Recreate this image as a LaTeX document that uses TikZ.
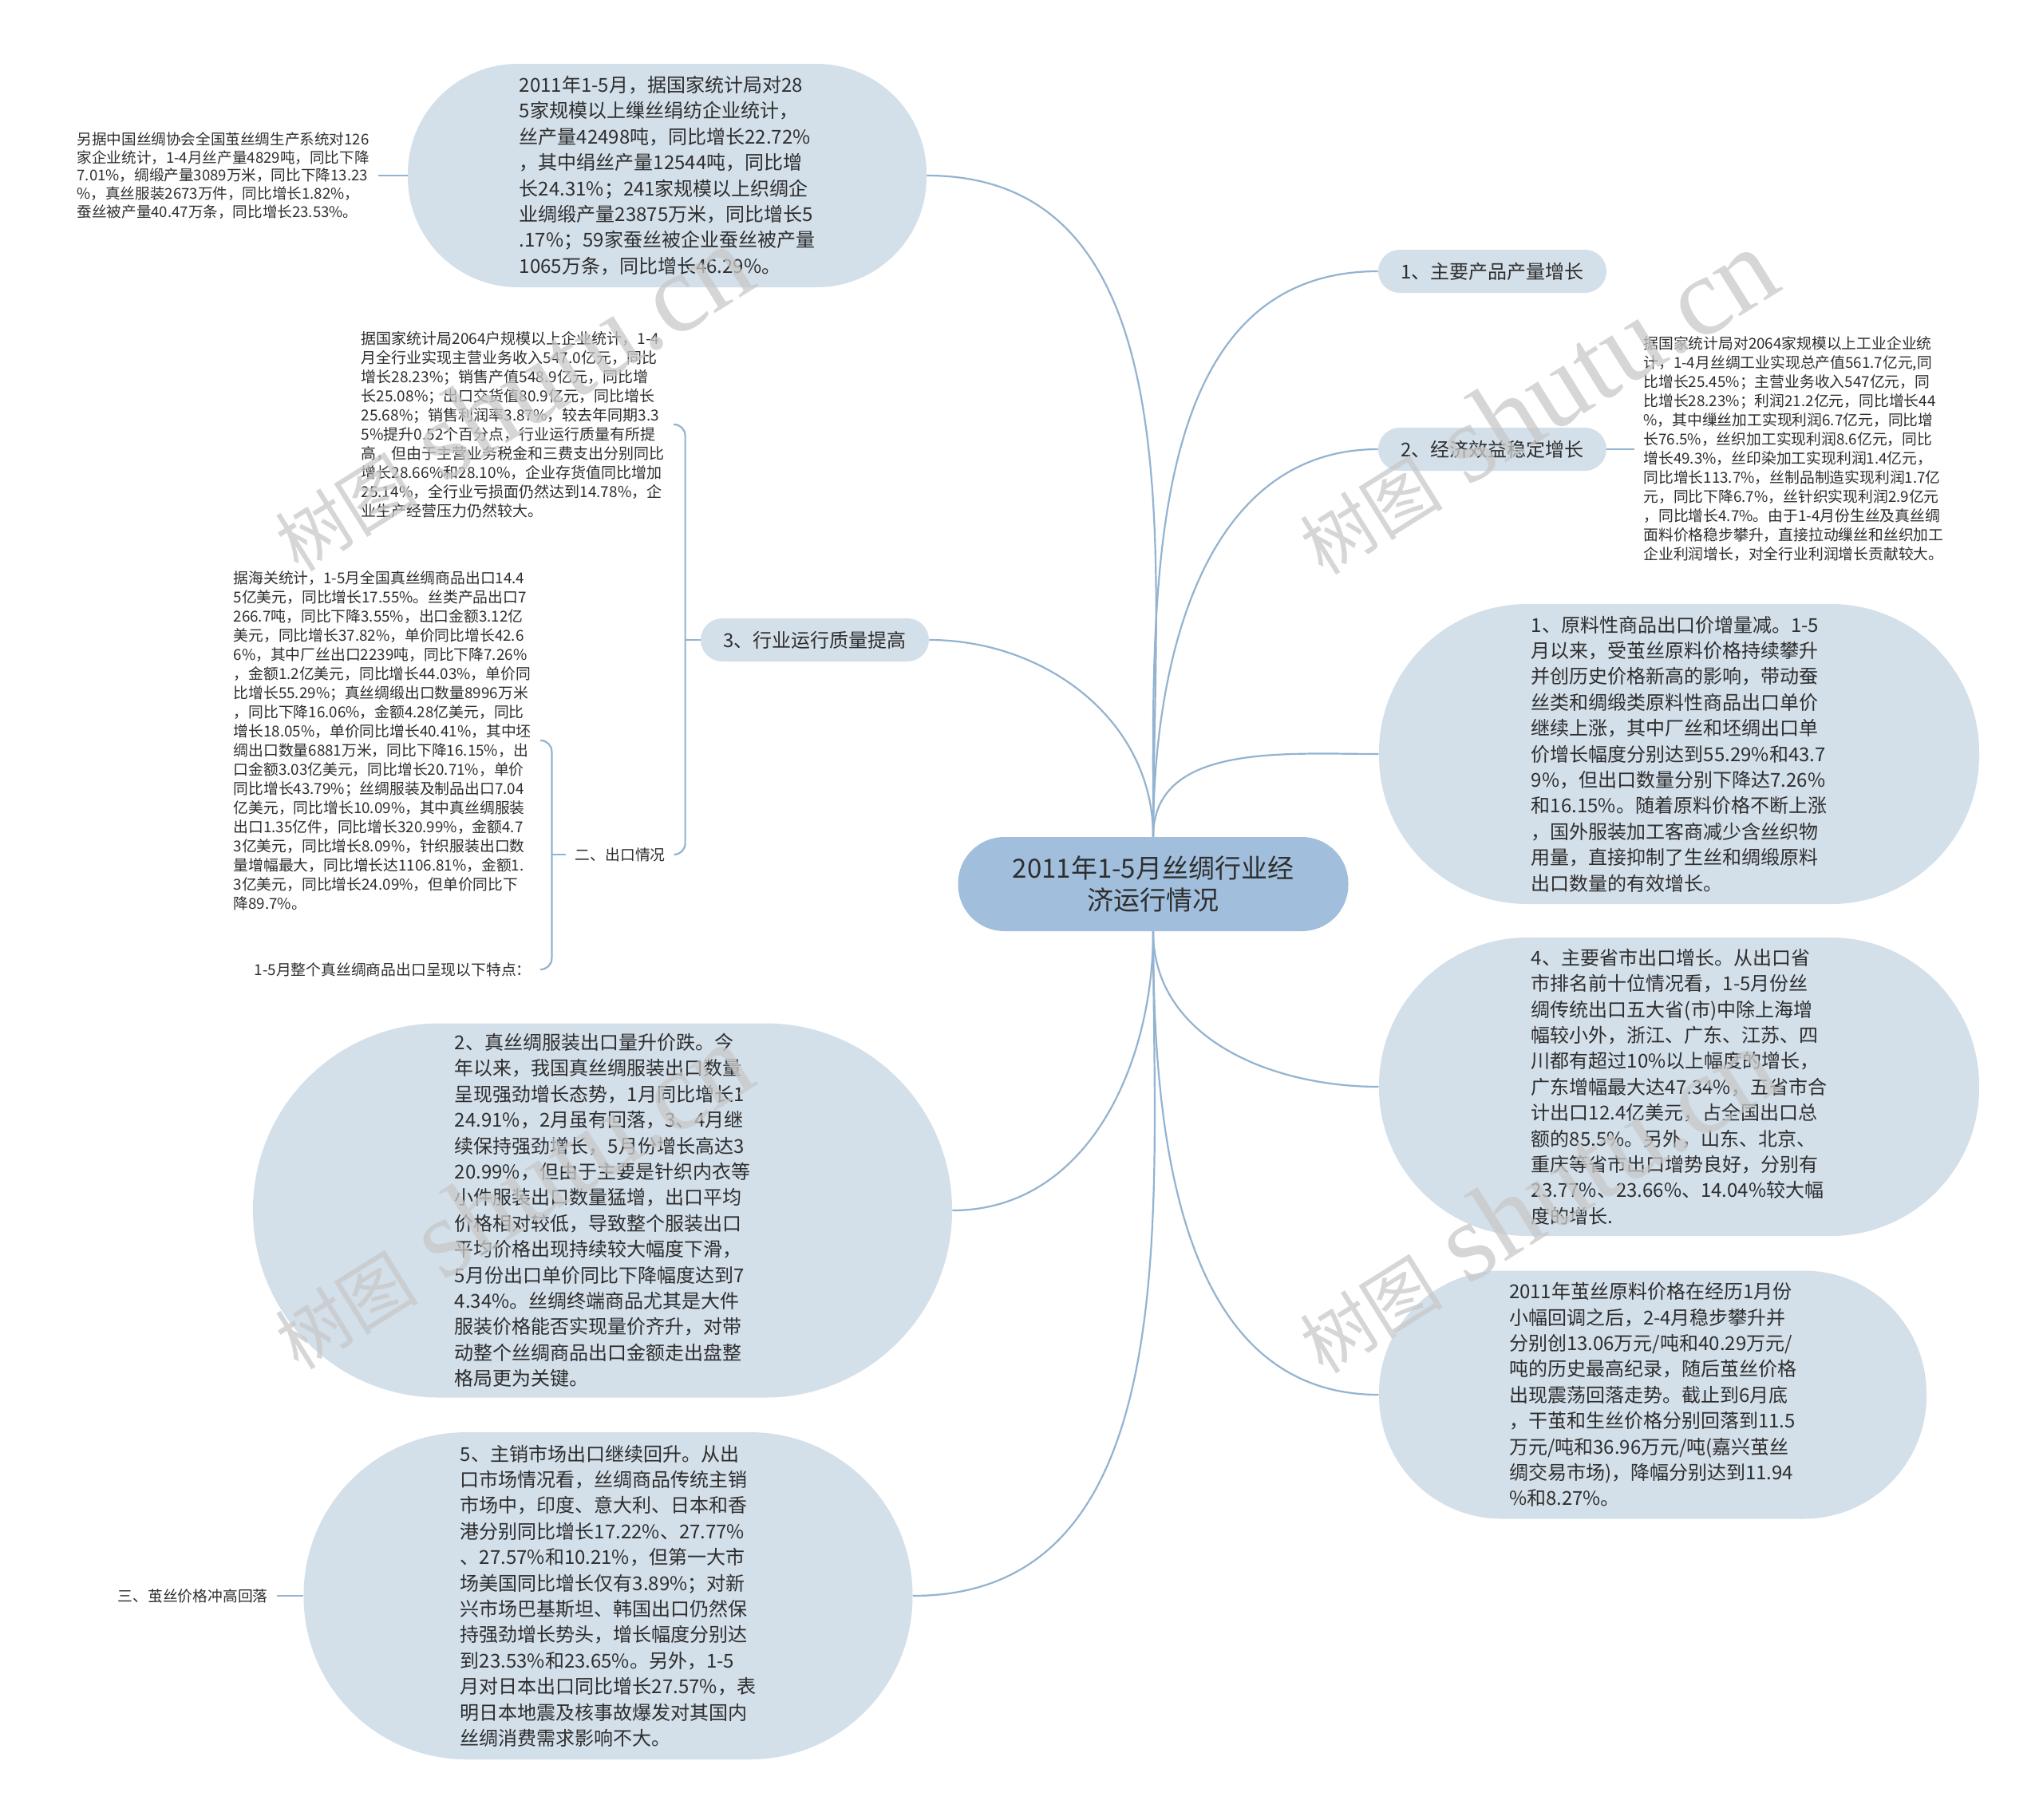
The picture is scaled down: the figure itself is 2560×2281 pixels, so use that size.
\documentclass[tikz,border=0pt]{standalone}
\usepackage{fontspec}
\setmainfont{Noto Sans CJK SC}
\newfontfamily\cjk{Noto Sans CJK SC}
\newfontfamily\wmserif{Liberation Serif}
\definecolor{rootfill}{HTML}{A1BFDC}
\definecolor{boxfill}{HTML}{D3DFE9}
\definecolor{linec}{HTML}{93B3D0}
\definecolor{txt}{HTML}{2E2E2E}
\newcommand{\wmtext}{{\cjk\fontsize{45pt}{47pt}\selectfont 树图}\hspace{16pt}{\wmserif\fontsize{70pt}{72pt}\selectfont shutu.cn}}
\begin{document}
\begin{tikzpicture}[x=0.5pt,y=-0.5pt]
\tikzset{
  conn/.style={draw=linec, line width=1.1pt},
  rootbox/.style={fill=rootfill, align=center, inner sep=0pt, text=txt,
    font=\fontsize{16.5pt}{20pt}\selectfont, minimum width=244.5pt,
    minimum height=59pt, rounded corners=29pt},
  bigbox/.style={fill=boxfill, align=left, inner sep=0pt, text=txt,
    font=\fontsize{12pt}{16.2pt}\selectfont},
  topic/.style={fill=boxfill, align=center, inner sep=0pt, text=txt,
    font=\fontsize{12pt}{14pt}\selectfont, minimum width=143pt,
    minimum height=27pt, rounded corners=13.5pt},
  note/.style={align=left, inner xsep=5.5pt, inner ysep=2pt, text=txt,
    font=\fontsize{9.4pt}{12pt}\selectfont},
  wm/.style={text=black!21, opacity=0.75, inner sep=0pt},
}
\useasboundingbox (0,0) rectangle (2560,2281);
\fill[white] (0,0) rectangle (2560,2281);

% root
\node[rootbox] (root) at (1445,1108) {2011年1-5月丝绸行业经\\济运行情况};

% top-left big box
\node[bigbox, minimum width=325pt, minimum height=140pt, rounded corners=69pt] (boxA) at (836,220) {2011年1-5月，据国家统计局对28\\
5家规模以上缫丝绢纺企业统计，\\
丝产量42498吨，同比增长22.72\%\\
，其中绢丝产量12544吨，同比增\\
长24.31\%；241家规模以上织绸企\\
业绸缎产量23875万米，同比增长5\\
.17\%；59家蚕丝被企业蚕丝被产量\\
1065万条，同比增长46.29\%。};

\node[note, anchor=east, font=\fontsize{9.3pt}{11.35pt}\selectfont] (noteA) at (474,220) {另据中国丝绸协会全国茧丝绸生产系统对126\\
家企业统计，1-4月丝产量4829吨，同比下降\\
7.01\%，绸缎产量3089万米，同比下降13.23\\
\%，真丝服装2673万件，同比增长1.82\%，\\
蚕丝被产量40.47万条，同比增长23.53\%。};

% right topics
\node[topic] (t1) at (1870,340) {1、主要产品产量增长};
\node[topic] (t2) at (1870,563) {2、经济效益稳定增长};

\node[note, anchor=west] (noteB) at (2048,563) {据国家统计局对2064家规模以上工业企业统\\
计，1-4月丝绸工业实现总产值561.7亿元,同\\
比增长25.45\%；主营业务收入547亿元，同\\
比增长28.23\%；利润21.2亿元，同比增长44\\
\%，其中缫丝加工实现利润6.7亿元，同比增\\
长76.5\%，丝织加工实现利润8.6亿元，同比\\
增长49.3\%，丝印染加工实现利润1.4亿元，\\
同比增长113.7\%，丝制品制造实现利润1.7亿\\
元，同比下降6.7\%，丝针织实现利润2.9亿元\\
，同比增长4.7\%。由于1-4月份生丝及真丝绸\\
面料价格稳步攀升，直接拉动缫丝和丝织加工\\
企业利润增长，对全行业利润增长贡献较大。};

\node[bigbox, minimum width=376pt, minimum height=188pt, rounded corners=93pt] (b1) at (2104,945) {1、原料性商品出口价增量减。1-5\\
月以来，受茧丝原料价格持续攀升\\
并创历史价格新高的影响，带动蚕\\
丝类和绸缎类原料性商品出口单价\\
继续上涨，其中厂丝和坯绸出口单\\
价增长幅度分别达到55.29\%和43.7\\
9\%，但出口数量分别下降达7.26\%\\
和16.15\%。随着原料价格不断上涨\\
，国外服装加工客商减少含丝织物\\
用量，直接抑制了生丝和绸缎原料\\
出口数量的有效增长。};

\node[bigbox, minimum width=376pt, minimum height=187pt, rounded corners=93pt] (b4) at (2104,1362) {4、主要省市出口增长。从出口省\\
市排名前十位情况看，1-5月份丝\\
绸传统出口五大省(市)中除上海增\\
幅较小外，浙江、广东、江苏、四\\
川都有超过10\%以上幅度的增长，\\
广东增幅最大达47.34\%，五省市合\\
计出口12.4亿美元，占全国出口总\\
额的85.5\%。另外，山东、北京、\\
重庆等省市出口增势良好，分别有\\
23.77\%、23.66\%、14.04\%较大幅\\
度的增长.};

\node[bigbox, minimum width=343pt, minimum height=155.5pt, rounded corners=77pt] (b5) at (2071,1748) {2011年茧丝原料价格在经历1月份\\
小幅回调之后，2-4月稳步攀升并\\
分别创13.06万元/吨和40.29万元/\\
吨的历史最高纪录，随后茧丝价格\\
出现震荡回落走势。截止到6月底\\
，干茧和生丝价格分别回落到11.5\\
万元/吨和36.96万元/吨(嘉兴茧丝\\
绸交易市场)，降幅分别达到11.94\\
\%和8.27\%。};

% left middle
\node[topic] (t3) at (1021,802) {3、行业运行质量提高};

\node[note, anchor=east, font=\fontsize{9.5pt}{12pt}\selectfont] (n2064) at (844,532) {据国家统计局2064户规模以上企业统计，1-4\\
月全行业实现主营业务收入547.0亿元，同比\\
增长28.23\%；销售产值548.9亿元，同比增\\
长25.08\%；出口交货值80.9亿元，同比增长\\
25.68\%；销售利润率3.87\%，较去年同期3.3\\
5\%提升0.52个百分点，行业运行质量有所提\\
高，但由于主营业务税金和三费支出分别同比\\
增长28.66\%和28.10\%，企业存货值同比增加\\
25.14\%，全行业亏损面仍然达到14.78\%，企\\
业生产经营压力仍然较大。};

\node[note, anchor=east] (ex) at (845,1071) {二、出口情况};

\node[note, anchor=east] (hg) at (677,928) {据海关统计，1-5月全国真丝绸商品出口14.4\\
5亿美元，同比增长17.55\%。丝类产品出口7\\
266.7吨，同比下降3.55\%，出口金额3.12亿\\
美元，同比增长37.82\%，单价同比增长42.6\\
6\%，其中厂丝出口2239吨，同比下降7.26\%\\
，金额1.2亿美元，同比增长44.03\%，单价同\\
比增长55.29\%；真丝绸缎出口数量8996万米\\
，同比下降16.06\%，金额4.28亿美元，同比\\
增长18.05\%，单价同比增长40.41\%，其中坯\\
绸出口数量6881万米，同比下降16.15\%，出\\
口金额3.03亿美元，同比增长20.71\%，单价\\
同比增长43.79\%；丝绸服装及制品出口7.04\\
亿美元，同比增长10.09\%，其中真丝绸服装\\
出口1.35亿件，同比增长320.99\%，金额4.7\\
3亿美元，同比增长8.09\%，针织服装出口数\\
量增幅最大，同比增长达1106.81\%，金额1.\\
3亿美元，同比增长24.09\%，但单价同比下\\
降89.7\%。};

\node[note, anchor=east] (ts) at (677,1215) {1-5月整个真丝绸商品出口呈现以下特点：};

% bottom left boxes
\node[bigbox, minimum width=438pt, minimum height=234.5pt, rounded corners=117pt] (b2) at (755,1517) {2、真丝绸服装出口量升价跌。今\\
年以来，我国真丝绸服装出口数量\\
呈现强劲增长态势，1月同比增长1\\
24.91\%，2月虽有回落，3、4月继\\
续保持强劲增长，5月份增长高达3\\
20.99\%，但由于主要是针织内衣等\\
小件服装出口数量猛增，出口平均\\
价格相对较低，导致整个服装出口\\
平均价格出现持续较大幅度下滑，\\
5月份出口单价同比下降幅度达到7\\
4.34\%。丝绸终端商品尤其是大件\\
服装价格能否实现量价齐升，对带\\
动整个丝绸商品出口金额走出盘整\\
格局更为关键。};

\node[bigbox, minimum width=381.5pt, minimum height=205pt, rounded corners=102pt] (b3) at (762,2000) {5、主销市场出口继续回升。从出\\
口市场情况看，丝绸商品传统主销\\
市场中，印度、意大利、日本和香\\
港分别同比增长17.22\%、27.77\%\\
、27.57\%和10.21\%，但第一大市\\
场美国同比增长仅有3.89\%；对新\\
兴市场巴基斯坦、韩国出口仍然保\\
持强劲增长势头，增长幅度分别达\\
到23.53\%和23.65\%。另外，1-5\\
月对日本出口同比增长27.57\%，表\\
明日本地震及核事故爆发对其国内\\
丝绸消费需求影响不大。};

\node[note, anchor=east] (sj) at (347,2000) {三、茧丝价格冲高回落};

% connectors from root
\draw[conn] (root.north) to[out=90,in=0] (boxA.east);
\draw[conn] (root.north) to[out=90,in=180] (t1.west);
\draw[conn] (root.north) to[out=90,in=180] (t2.west);
\draw[conn] (root.north) to[out=90,in=180] (b1.west);
\draw[conn] (root.north) to[out=90,in=0] (t3.east);
\draw[conn] (root.south) to[out=-90,in=180] (b4.west);
\draw[conn] (root.south) to[out=-90,in=180] (b5.west);
\draw[conn] (root.south) to[out=-90,in=0] (b2.east);
\draw[conn] (root.south) to[out=-90,in=0] (b3.east);

% straight links
\draw[conn] (noteA.east) -- (boxA.west);
\draw[conn] (t2.east) -- (noteB.west);
\draw[conn] (sj.east) -- (b3.west);

% brackets
\coordinate (j3) at ([xshift=-9.5pt]t3.west);
\draw[conn] (t3.west) -- (j3);
\draw[conn, rounded corners=7pt] (j3) |- (n2064.east);
\draw[conn, rounded corners=7pt] (j3) |- (ex.east);

\coordinate (j2) at ([xshift=-9pt]ex.west);
\draw[conn] (ex.west) -- (j2);
\draw[conn, rounded corners=7pt] (j2) |- (hg.east);
\draw[conn, rounded corners=7pt] (j2) |- (ts.east);

% watermarks
\node[wm, rotate=32] (wm1) at (640,500) {\wmtext};
\node[wm, rotate=32] (wm2) at (1924,504) {\wmtext};
\node[wm, rotate=32] (wm3) at (640,1500) {\wmtext};
\node[wm, rotate=32] (wm4) at (1924,1505) {\wmtext};
\end{tikzpicture}
\end{document}
